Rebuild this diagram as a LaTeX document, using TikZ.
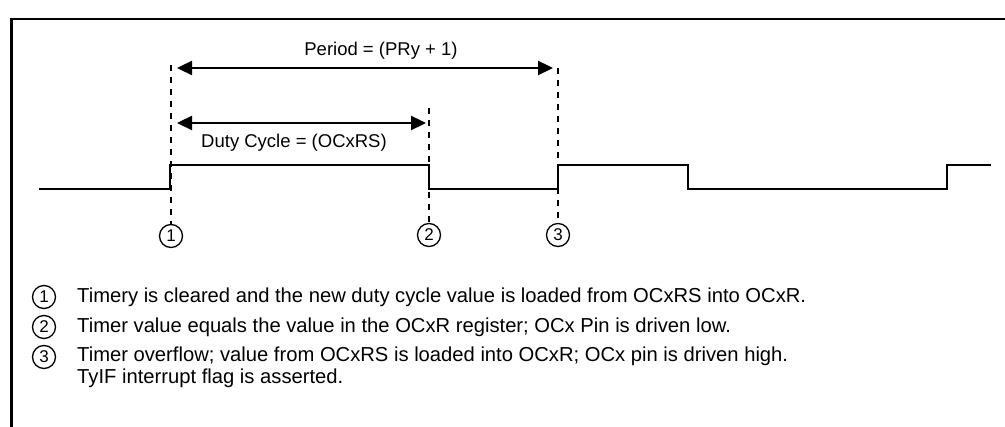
\documentclass[tikz,border=0pt]{standalone}
\usepackage{fontspec}
\setmainfont{Liberation Sans}
\usetikzlibrary{arrows.meta}
\begin{document}
\begin{tikzpicture}[x=1pt,y=-1pt,
  frameline/.style={line width=2.6pt},
  signal/.style={line width=2.6pt, line join=miter},
  guide/.style={line width=2.4pt, dash pattern=on 6pt off 6pt},
  dimarrow/.style={line width=2.3pt, {Triangle[length=15pt,width=14pt]}-{Triangle[length=15pt,width=14pt]}},
  lbl/.style={font=\fontsize{18.5}{22}\selectfont, inner sep=0pt},
  marker/.style={circle, draw, line width=1.3pt, minimum size=23pt, inner sep=0pt, font=\fontsize{17}{19}\selectfont},
  legtext/.style={font=\fontsize{20.2}{21.5}\selectfont, inner sep=0pt, anchor=west, align=left}
]
\useasboundingbox (0,0) rectangle (1005,427);
% frame
\coordinate (fbl) at (11.5,427);
\coordinate (ftl) at (11.5,19);
\coordinate (ftr) at (1005,19);
\draw[frameline] (fbl) -- (ftl) -- (ftr);
% signal
\draw[signal] (39,189) -- (170,189) -- (170,165) -- (429,165) -- (429,189) -- (558,189) -- (558,165) -- (688,165) -- (688,189) -- (947,189) -- (947,165) -- (991,165);
% markers
\node[marker] (c1) at (171,236) {1};
\node[marker] (c2) at (429,235) {2};
\node[marker] (c3) at (558,235) {3};
\coordinate (g1) at (171,65);
\coordinate (g2) at (429,108);
\coordinate (g3) at (558,68);
\draw[guide] (g1) -- (c1.north);
\draw[guide] (g2) -- (c2.north);
\draw[guide] (g3) -- (c3.north);
% dimension arrows
\coordinate (pa) at (177,68);
\coordinate (pb) at (553,68);
\coordinate (da) at (177,123);
\coordinate (db) at (426,123);
\draw[dimarrow] (pa) -- (pb);
\draw[dimarrow] (da) -- (db);
\node[lbl] (period) at (381,51) {Period = (PRy + 1)};
\node[lbl] (duty) at (294,143) {Duty Cycle = (OCxRS)};
% legend
\node[marker] (l1) at (44,297) {1};
\node[marker] (l2) at (44,327) {2};
\node[marker] (l3) at (44,357) {3};
\node[legtext] (t1) at (77,297) {Timery is cleared and the new duty cycle value is loaded from OCxRS into OCxR.};
\node[legtext] (t2) at (77,327) {Timer value equals the value in the OCxR register; OCx Pin is driven low.};
\node[legtext] (t3) at (77,367.5) {Timer overflow; value from OCxRS is loaded into OCxR; OCx pin is driven high.\\TyIF interrupt flag is asserted.};
\end{tikzpicture}
\end{document}
